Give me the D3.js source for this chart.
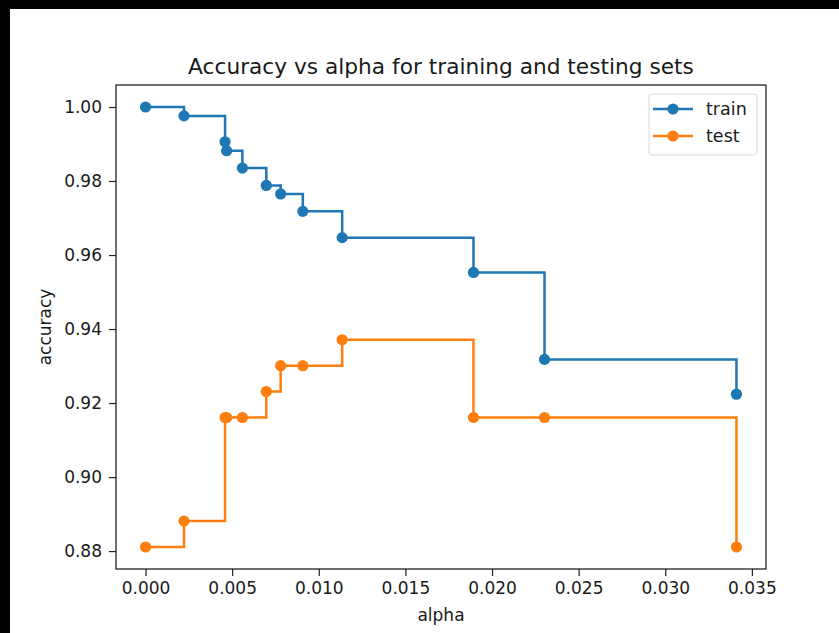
<!DOCTYPE html>
<html>
<head>
<meta charset="utf-8">
<script src="https://cdn.jsdelivr.net/npm/d3@7"></script>
<style>
  html, body { margin: 0; padding: 0; background: #000; }
  svg { display: block; }
  text { font-family: "DejaVu Sans", sans-serif; fill: #1a1a1a; }
</style>
</head>
<body>
<svg id="chart"></svg>
<script>
// values (ccp_alphas vs accuracy)
const alphas = [0, 0.00222, 0.00459, 0.00468, 0.00559, 0.00697, 0.00780, 0.00908, 0.01135, 0.01893, 0.02303, 0.03411];
const trainAcc = [1.0, 0.9976, 0.9906, 0.9882, 0.9835, 0.9788, 0.9765, 0.9718, 0.9647, 0.9553, 0.9318, 0.9224];
const testAcc = [0.8811, 0.8881, 0.9161, 0.9161, 0.9161, 0.9231, 0.9301, 0.9301, 0.9371, 0.9161, 0.9161, 0.8811];
const xTicks = [0, 0.005, 0.010, 0.015, 0.020, 0.025, 0.030, 0.035];
const yTicks = [0.88, 0.90, 0.92, 0.94, 0.96, 0.98, 1.00];
const seriesNames = ["train", "test"];
const colors = ["#1f77b4", "#ff7f0e"];

const W = 839, H = 633;
const plot = { left: 116, right: 766, top: 85, bottom: 569 };

const svg = d3.select("#chart").attr("width", W).attr("height", H);

// white figure area (black frame top/left as in the screenshot)
svg.append("rect").attr("x", 10).attr("y", 9).attr("width", W - 10).attr("height", H - 9).attr("fill", "#fff");

// matplotlib style 5% margins
const xExt = d3.extent(alphas);
const yExt = d3.extent(trainAcc.concat(testAcc));
const xPad = (xExt[1] - xExt[0]) * 0.05;
const yPad = (yExt[1] - yExt[0]) * 0.05;

const x = d3.scaleLinear().domain([xExt[0] - xPad, xExt[1] + xPad]).range([plot.left, plot.right]);
const y = d3.scaleLinear().domain([yExt[0] - yPad, yExt[1] + yPad]).range([plot.bottom, plot.top]);

// axes
svg.append("g")
  .attr("transform", `translate(0,${plot.bottom})`)
  .call(d3.axisBottom(x).tickValues(xTicks).tickFormat(d3.format(".3f")).tickSize(7).tickPadding(6))
  .call(g => g.select(".domain").remove())
  .call(g => g.selectAll("line").attr("stroke", "#222").attr("stroke-width", 1.2))
  .call(g => g.selectAll("text").attr("font-size", 17).attr("fill", "#1a1a1a").attr("font-family", "DejaVu Sans, sans-serif"));

svg.append("g")
  .attr("transform", `translate(${plot.left},0)`)
  .call(d3.axisLeft(y).tickValues(yTicks).tickFormat(d3.format(".2f")).tickSize(7).tickPadding(7))
  .call(g => g.select(".domain").remove())
  .call(g => g.selectAll("line").attr("stroke", "#222").attr("stroke-width", 1.2))
  .call(g => g.selectAll("text").attr("font-size", 17).attr("fill", "#1a1a1a").attr("font-family", "DejaVu Sans, sans-serif"));

// step-post lines + markers
const stepLine = d3.line().x(d => x(d[0])).y(d => y(d[1])).curve(d3.curveStepAfter);

[trainAcc, testAcc].forEach((vals, i) => {
  const pts = alphas.map((a, j) => [a, vals[j]]);
  svg.append("path")
    .attr("d", stepLine(pts))
    .attr("fill", "none")
    .attr("stroke", colors[i])
    .attr("stroke-width", 2.5);
  svg.append("g").selectAll("circle")
    .data(pts)
    .join("circle")
    .attr("cx", d => x(d[0]))
    .attr("cy", d => y(d[1]))
    .attr("r", 5.6)
    .attr("fill", colors[i]);
});

// frame
svg.append("rect")
  .attr("x", plot.left).attr("y", plot.top)
  .attr("width", plot.right - plot.left).attr("height", plot.bottom - plot.top)
  .attr("fill", "none").attr("stroke", "#111").attr("stroke-width", 1.2);

// title and labels
svg.append("text")
  .attr("x", (plot.left + plot.right) / 2).attr("y", 74)
  .attr("text-anchor", "middle").attr("font-size", 21.7)
  .text("Accuracy vs alpha for training and testing sets");

svg.append("text")
  .attr("x", (plot.left + plot.right) / 2).attr("y", 621)
  .attr("text-anchor", "middle").attr("font-size", 17)
  .text("alpha");

svg.append("text")
  .attr("transform", `translate(51,${(plot.top + plot.bottom) / 2}) rotate(-90)`)
  .attr("text-anchor", "middle").attr("font-size", 17)
  .text("accuracy");

// legend
const legend = svg.append("g");
legend.append("rect")
  .attr("x", 649).attr("y", 94).attr("width", 108).attr("height", 61).attr("rx", 3)
  .attr("fill", "#fff").attr("fill-opacity", 0.8)
  .attr("stroke", "#d8d8d8").attr("stroke-width", 1);

seriesNames.forEach((name, i) => {
  const ly = 109 + i * 27;
  legend.append("line")
    .attr("x1", 653).attr("x2", 693).attr("y1", ly).attr("y2", ly)
    .attr("stroke", colors[i]).attr("stroke-width", 2.5);
  legend.append("circle").attr("cx", 673).attr("cy", ly).attr("r", 5.6).attr("fill", colors[i]);
  legend.append("text")
    .attr("x", 706).attr("y", ly).attr("dy", "0.35em").attr("font-size", 17.5)
    .text(name);
});
</script>
</body>
</html>
